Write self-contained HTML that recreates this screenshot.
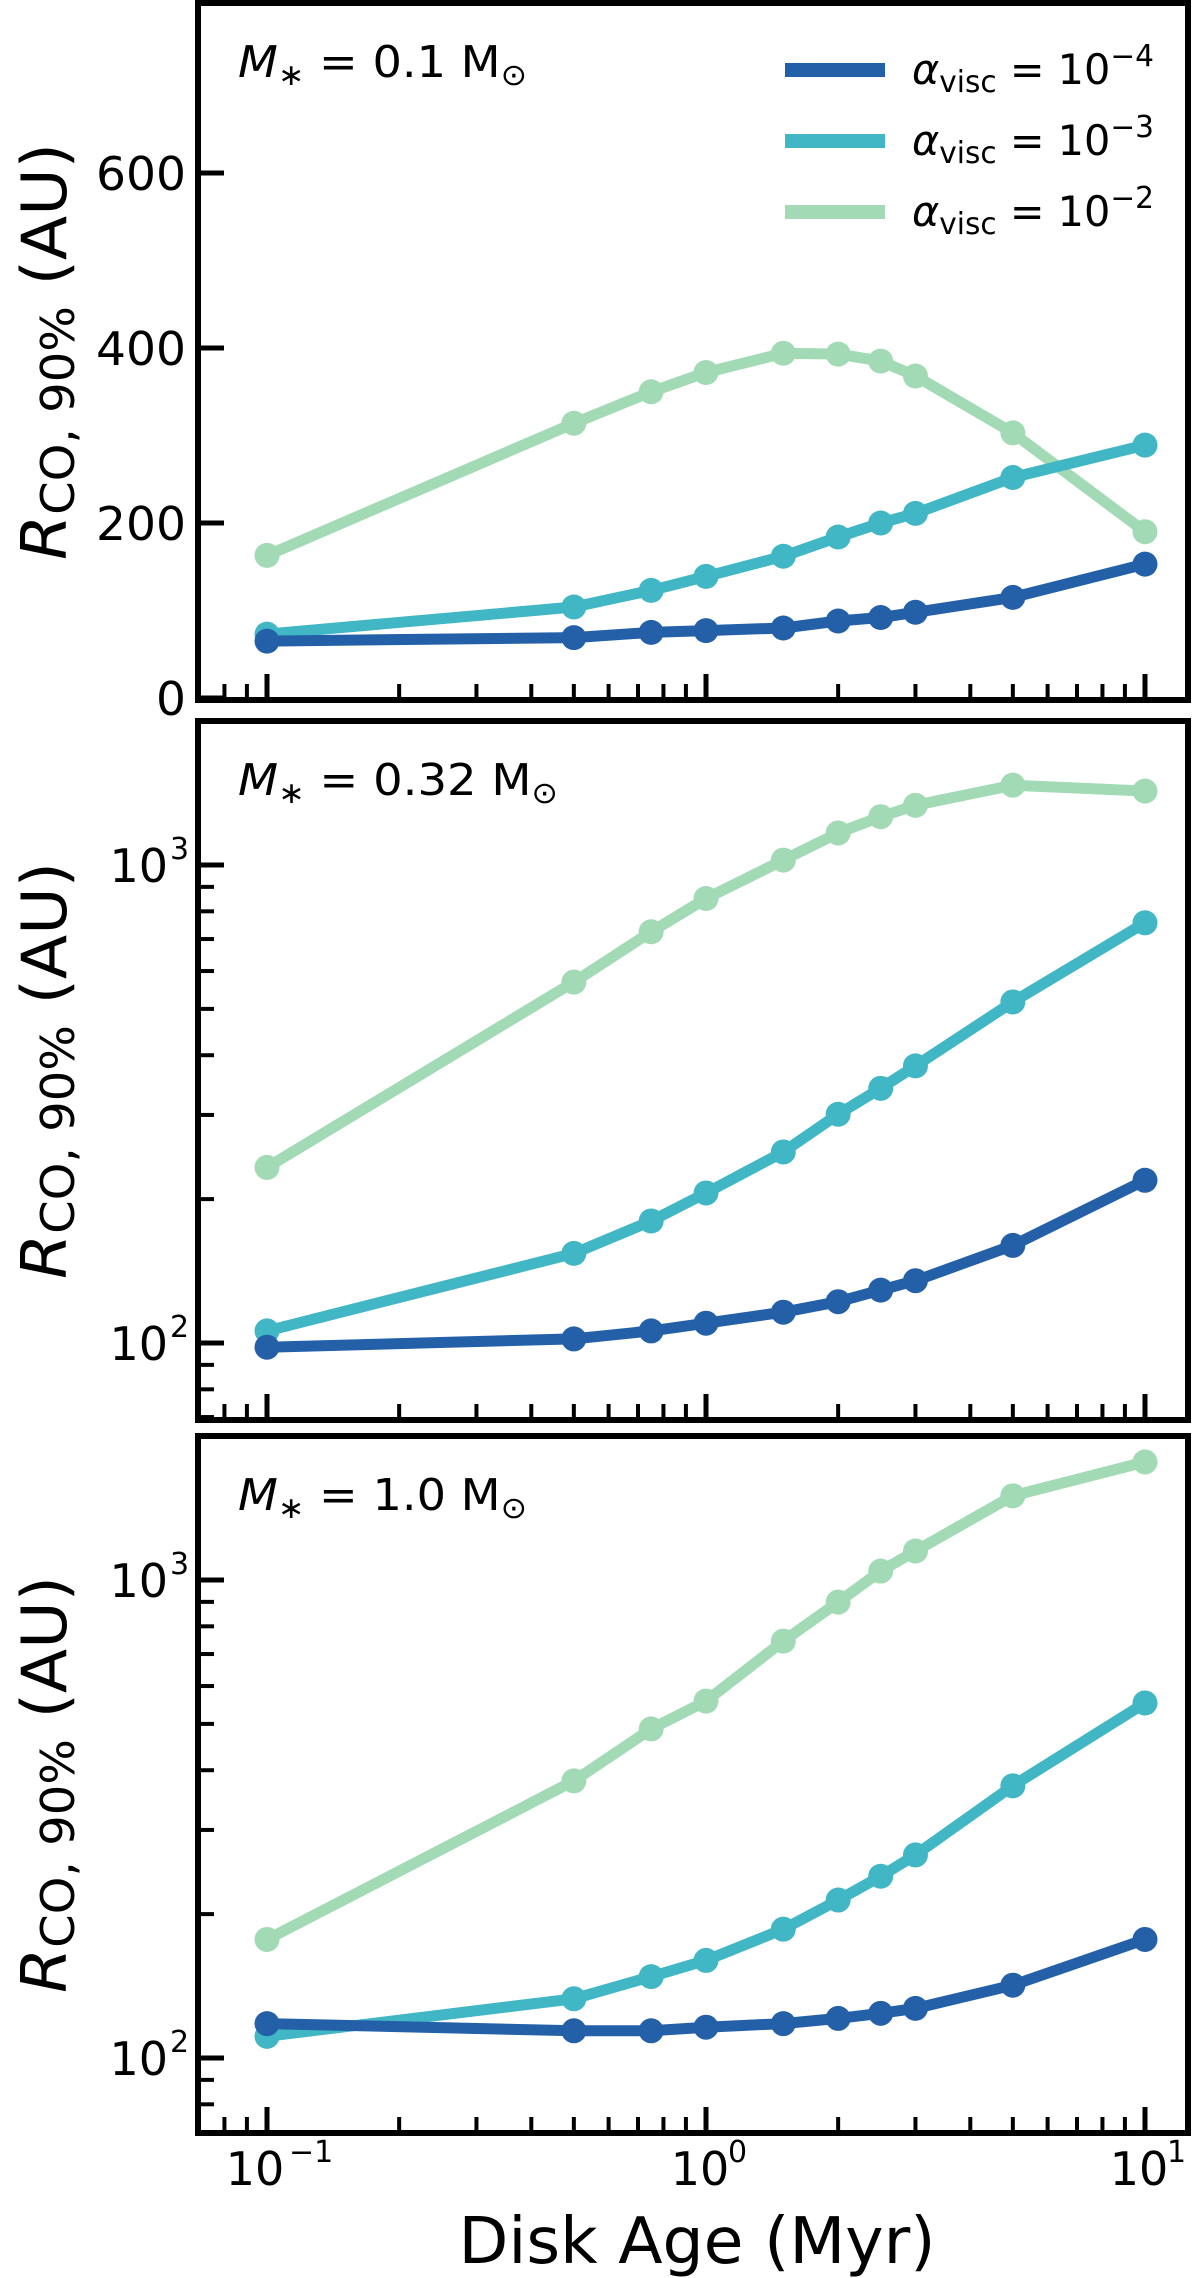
<!DOCTYPE html>
<html><head><meta charset="utf-8"><style>
html,body{margin:0;padding:0;background:#fff;}
svg{display:block;font-family:"DejaVu Sans","Liberation Sans",sans-serif;}
</style></head><body>
<svg id="chart" width="1200" height="2278" viewBox="0 0 1200 2278" xmlns="http://www.w3.org/2000/svg"></svg>
<script>
const ages = [0.1, 0.5, 0.75, 1, 1.5, 2, 2.5, 3, 5, 10];
const seriesNames = ["alpha-1e-4", "alpha-1e-3", "alpha-1e-2"];
const p1Low = [65, 69, 75, 77, 80, 88, 92, 98, 115, 153];
const p1Mid = [73, 104, 123, 139, 162, 184, 200, 211, 252, 289];
const p1High = [163, 314, 350, 372, 394, 393, 385, 368, 303, 190];
const p2Low = [98, 102, 106, 110, 116, 122, 129, 135, 160, 219];
const p2Mid = [106, 154, 180, 206, 251, 301, 341, 380, 517, 757];
const p2High = [233, 569, 725, 851, 1024, 1167, 1262, 1333, 1469, 1428];
const p3Low = [118, 114, 114, 116, 118, 121, 124, 127, 142, 177];
const p3Mid = [111, 133, 148, 160, 186, 214, 240, 266, 371, 553];
const p3High = [177, 380, 488, 558, 745, 899, 1044, 1150, 1500, 1766];
const p1Ticks = [0, 200, 400, 600];
const massLabels = ["0.1", "0.32", "1.0"];
const colors = ["#2360a8", "#41b6c4", "#a1dab4"];

const NS = "http://www.w3.org/2000/svg";
const svg = document.getElementById("chart");
function mk(tag, attrs, parent) {
  const e = document.createElementNS(NS, tag);
  for (const k in attrs) e.setAttribute(k, attrs[k]);
  (parent || svg).appendChild(e);
  return e;
}
const L = 198, R = 1188;
function xs(v) { return 706 + 439 * Math.log10(v); }

const panels = [
  {top: 3, bot: 700, log: false, data: [p1Low, p1Mid, p1High]},
  {top: 721, bot: 1420, log: true, dec3: 865, data: [p2Low, p2Mid, p2High]},
  {top: 1436, bot: 2133, log: true, dec3: 1580, data: [p3Low, p3Mid, p3High]}
];

panels.forEach((p, pi) => {
  const g = mk("g", {});
  
  
  let ys;
  if (p.log) ys = v => p.dec3 + 478 * (3 - Math.log10(v));
  else ys = v => 698 - 0.875 * v;
  const cid = "clip" + pi;
  const cp = mk("clipPath", {id: cid}, g);
  mk("rect", {x: L, y: p.top, width: R - L, height: p.bot - p.top}, cp);
  const sg = mk("g", {"clip-path": "url(#" + cid + ")"}, g);
  [2, 1, 0].forEach(si => {
    const vals = p.data[si];
    const pts = ages.map((a, i) => xs(a).toFixed(1) + "," + ys(vals[i]).toFixed(1)).join(" ");
    const pl = mk("polyline", {points: pts, fill: "none", stroke: colors[si], "stroke-width": 11, "stroke-linejoin": "round"}, sg);
    
    
    ages.forEach((a, i) => {
      const c = mk("circle", {cx: xs(a), cy: ys(vals[i]), r: 12.5, fill: colors[si]}, sg);
      
      
    });
  });
  for (let d = -2; d <= 1; d++) {
    for (let m = 1; m <= 9; m++) {
      const v = m * Math.pow(10, d);
      const x = xs(v);
      if (x < L || x > R) continue;
      const len = m === 1 ? 26 : 16;
      mk("line", {x1: x, x2: x, y1: p.bot, y2: p.bot - len, stroke: "#000", "stroke-width": m === 1 ? 5 : 4}, g);
    }
  }
  if (!p.log) {
    p1Ticks.forEach(t => {
      const y = ys(t);
      mk("line", {x1: L, x2: L + 26, y1: y, y2: y, stroke: "#000", "stroke-width": 5}, g);
      const tx = mk("text", {x: L - 12, y: y + 17, "text-anchor": "end", "font-size": 46, fill: "#000", textLength: 30 * String(t).length, lengthAdjust: "spacingAndGlyphs"}, g);
      tx.textContent = t;
      
      
    });
  } else {
    for (let d = 1; d <= 3; d++) {
      for (let m = 1; m <= 9; m++) {
        const v = m * Math.pow(10, d);
        const y = ys(v);
        if (y < p.top || y > p.bot) continue;
        mk("line", {x1: L, x2: L + (m === 1 ? 26 : 16), y1: y, y2: y, stroke: "#000", "stroke-width": m === 1 ? 5 : 4}, g);
        if (m === 1) {
          const tx = mk("text", {x: L - 30, y: y + 17, "text-anchor": "end", "font-size": 46, fill: "#000"}, g);
          tx.textContent = "10";
          
          
          const sp = mk("text", {x: L - 28, y: y - 6, "font-size": 30, fill: "#000"}, g);
          sp.textContent = String(d);
        }
      }
    }
  }
  const fr = mk("rect", {x: L, y: p.top, width: R - L, height: p.bot - p.top, fill: "none", stroke: "#000", "stroke-width": 6}, g);
  
  
  const an = mk("text", {x: 238, y: p.top + 74, "font-size": 44, fill: "#000", textLength: pi === 1 ? 320 : 289, lengthAdjust: "spacingAndGlyphs"}, g);
  
  
  an.innerHTML = '<tspan font-style="italic">M</tspan><tspan font-size="30" dy="8">∗</tspan><tspan dy="-8"> = ' + massLabels[pi] + ' M</tspan><tspan font-size="30" dy="8">⊙</tspan>';
  const cy = (p.top + p.bot) / 2;
  const yl = mk("text", {transform: "translate(66," + cy + ") rotate(-90)", "text-anchor": "middle", "font-size": 62, fill: "#000", textLength: 417, lengthAdjust: "spacingAndGlyphs"}, g);
  
  
  yl.innerHTML = '<tspan font-style="italic">R</tspan><tspan font-size="46" dy="8">CO, 90%</tspan><tspan dy="-8"> (AU)</tspan>';
});

const lg = mk("g", {});


const legExp = ["−4", "−3", "−2"];
[70, 141, 212].forEach((y, i) => {
  const ln = mk("line", {x1: 785, x2: 885, y1: y, y2: y, stroke: colors[i], "stroke-width": 14}, lg);
  
  
  const t = mk("text", {x: 912, y: y + 14, "font-size": 42, fill: "#000", textLength: 242, lengthAdjust: "spacingAndGlyphs"}, lg);
  
  
  t.innerHTML = '<tspan font-style="italic">α</tspan><tspan font-size="30" dy="8">visc</tspan><tspan dy="-8"> = 10</tspan><tspan font-size="30" dy="-18">' + legExp[i] + '</tspan>';
});

[-1, 0, 1].forEach(d => {
  const x = xs(Math.pow(10, d));
  const t = mk("text", {x: x + (d < 0 ? -12 : -6), y: 2185, "text-anchor": "middle", "font-size": 46, fill: "#000"});
  t.textContent = "10";
  
  
  const s = mk("text", {x: x + 22, y: 2162, "font-size": 30, fill: "#000"});
  s.textContent = d < 0 ? "−1" : String(d);
});
const xl = mk("text", {x: 697, y: 2263, "text-anchor": "middle", "font-size": 64, fill: "#000", textLength: 477, lengthAdjust: "spacingAndGlyphs"});
xl.textContent = "Disk Age (Myr)";


</script>
</body></html>
